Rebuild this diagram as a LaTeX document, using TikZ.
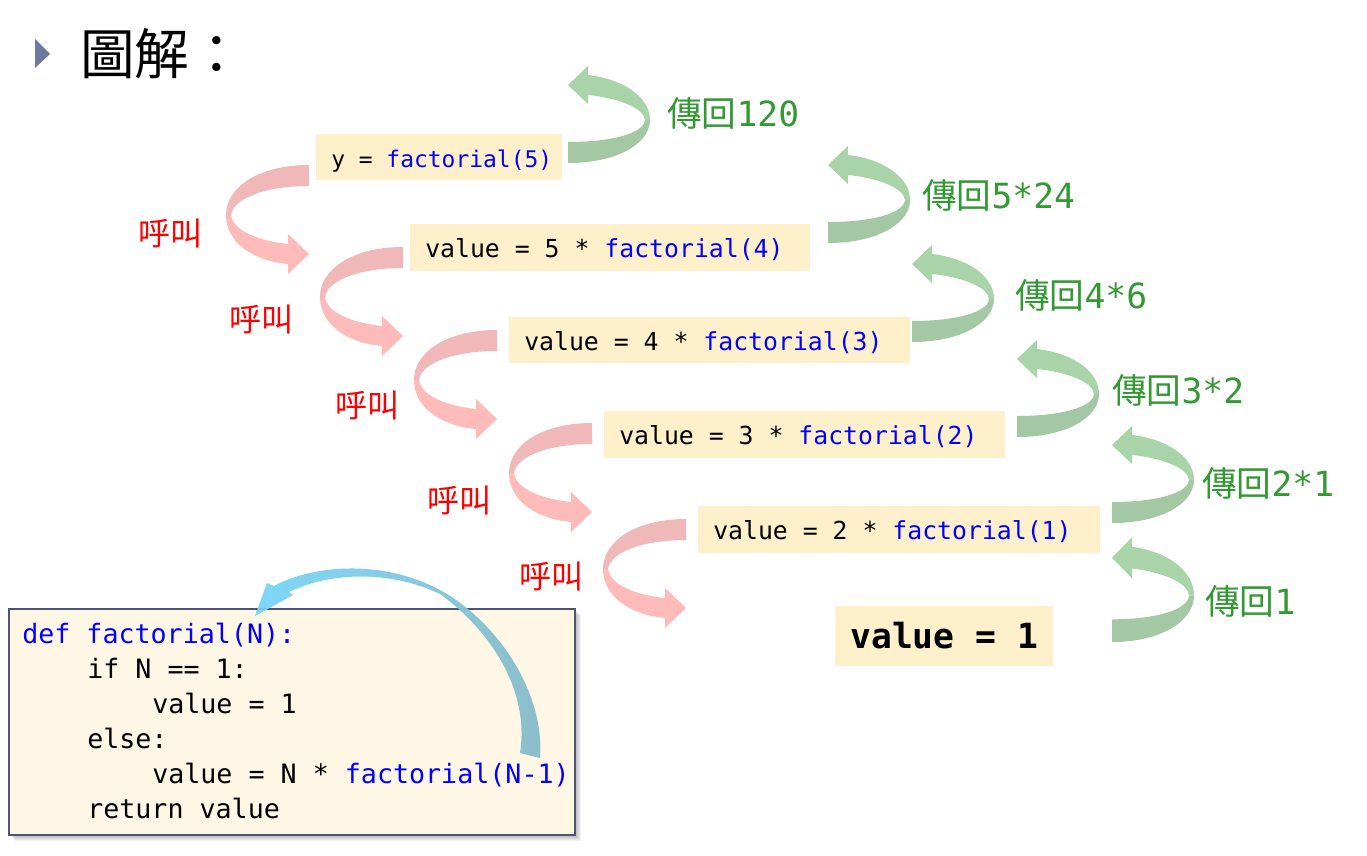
\documentclass[tikz,border=0pt]{standalone}
\usepackage{fontspec}
\setmainfont{Noto Sans CJK TC}
\newfontfamily\cjkf{Noto Sans CJK TC}
\newfontfamily\monof{DejaVu Sans Mono}
\usetikzlibrary{calc}
\newcommand\pu{0.75pt}
\definecolor{pinkA}{HTML}{F0B8B8}
\definecolor{pinkB}{HTML}{FFBABA}
\definecolor{greenA}{HTML}{A9D4A9}
\definecolor{greenB}{HTML}{A4C8A4}
\definecolor{boxfill}{HTML}{FFF0CC}
\definecolor{codefill}{HTML}{FFF7E5}
\definecolor{codeborder}{HTML}{4D5475}
\definecolor{kwblue}{HTML}{0000FF}
\definecolor{lblgreen}{HTML}{339933}
\definecolor{tri}{HTML}{6E79A1}
\definecolor{blueA}{HTML}{78D5F8}
\definecolor{blueB}{HTML}{86BCC8}
\tikzset{
  pinkarrow/.pic={
    \fill[pinkB] (-83,50) .. controls (-83,78) and (-55,96) .. (-21,99) -- (-21,109) -- (0,89) -- (-21,69) -- (-21,79) .. controls (-50,76) and (-76,66) .. (-78,50) -- cycle;
    \fill[pinkA] (0,0) .. controls (-50,0) and (-83,22) .. (-83,50) -- (-78,50) .. controls (-76,34) and (-45,21) .. (0,21) -- cycle;
  },
  greenarrow/.pic={
    \fill[greenB] (0,0) .. controls (50,0) and (82,-20) .. (82,-43) -- (77,-43) .. controls (76,-30) and (45,-21) .. (0,-21) -- cycle;
    \fill[greenA] (82,-43) .. controls (82,-66) and (55,-84) .. (20,-88) -- (20,-97) -- (0,-78) -- (20,-59) -- (20,-68) .. controls (50,-65) and (76,-55) .. (77,-43) -- cycle;
  },
  box/.style={fill=boxfill, inner sep=0pt, anchor=north west},
  boxtext/.style={inner sep=0pt, anchor=base west, font=\monof\fontsize{18.6pt}{22pt}\selectfont},
  codetext/.style={inner sep=0pt, anchor=base west, font=\monof\fontsize{20pt}{24pt}\selectfont},
  calllbl/.style={inner sep=0pt, text=red, font=\cjkf\fontsize{24pt}{28pt}\selectfont},
  retlbl/.style={inner sep=0pt, anchor=west, text=lblgreen, font=\fontsize{26pt}{30pt}\selectfont},
}
\newcommand\kw[1]{\textcolor{kwblue}{#1}}
\newcommand\ret[1]{{\cjkf 傳回}{\monof #1}}
\begin{document}
\begin{tikzpicture}[x=0.75pt,y=-0.75pt]
\useasboundingbox (0,0) rectangle (1367,856);
\fill[white] (0,0) rectangle (1367,856);

% title
\fill[tri] (35,39) -- (50,54) -- (35,68) -- cycle;
\node[inner sep=0pt, anchor=west, font=\cjkf\fontsize{41pt}{46pt}\selectfont] (title) at (80,54) {圖解：};

% boxes
\node[box, minimum width={246*\pu}, minimum height={46*\pu}] (b1) at (316,134) {};
\node[box, minimum width={400*\pu}, minimum height={47*\pu}] (b2) at (410,224) {};
\node[box, minimum width={401*\pu}, minimum height={46*\pu}] (b3) at (509,317) {};
\node[box, minimum width={401*\pu}, minimum height={47*\pu}] (b4) at (604,411) {};
\node[box, minimum width={402*\pu}, minimum height={47*\pu}] (b5) at (698,506) {};
\node[box, minimum width={218*\pu}, minimum height={60*\pu}] (b6) at (835,606) {};

\node[boxtext, font=\monof\fontsize{17.2pt}{21pt}\selectfont] (t1) at ($(b1.west)+(15,10)$) {y = \kw{factorial(5)}};
\node[boxtext] (t2) at ($(b2.west)+(15,10)$) {value = 5 * \kw{factorial(4)}};
\node[boxtext] (t3) at ($(b3.west)+(15,10)$) {value = 4 * \kw{factorial(3)}};
\node[boxtext] (t4) at ($(b4.west)+(15,10)$) {value = 3 * \kw{factorial(2)}};
\node[boxtext] (t5) at ($(b5.west)+(15,10)$) {value = 2 * \kw{factorial(1)}};
\node[inner sep=0pt, anchor=base west, font=\monof\bfseries\fontsize{26pt}{30pt}\selectfont] (t6) at ($(b6.west)+(15,12)$) {value = 1};

% call arrows
\pic at (309,165) {pinkarrow};
\pic at (403,247) {pinkarrow};
\pic at (497,330) {pinkarrow};
\pic at (592,423) {pinkarrow};
\pic at (686,519) {pinkarrow};

% return arrows
\pic at (568,163) {greenarrow};
\pic at (828,243) {greenarrow};
\pic at (912,342) {greenarrow};
\pic at (1017,437) {greenarrow};
\pic at (1112,523) {greenarrow};
\pic[yscale=1.08] at (1112,642) {greenarrow};

% call labels
\node[calllbl] (c1) at (170,233) {呼叫};
\node[calllbl] (c2) at (261,319) {呼叫};
\node[calllbl] (c3) at (367,405) {呼叫};
\node[calllbl] (c4) at (459,500) {呼叫};
\node[calllbl] (c5) at (551,576) {呼叫};

% return labels
\node[retlbl] (r1) at (667,113) {\ret{120}};
\node[retlbl] (r2) at (922,195) {\ret{5*24}};
\node[retlbl] (r3) at (1015,295) {\ret{4*6}};
\node[retlbl] (r4) at (1112,390) {\ret{3*2}};
\node[retlbl] (r5) at (1202,483) {\ret{2*1}};
\node[retlbl] (r6) at (1205,601) {\ret{1}};

% code box with shadow
\foreach \i in {1,...,7} {
  \fill[black, opacity=0.05] (8+\i,608+\i) rectangle (574+\i,834+\i);
}
\node[fill=codefill, draw=codeborder, line width=1.5pt, inner sep=0pt, anchor=north west,
      minimum width={566*\pu}, minimum height={226*\pu}] (code) at (8,608) {};
\node[codetext] (l1) at (22,643) {\kw{def factorial(N):}};
\node[codetext] (l2) at (87,678) {if N == 1:};
\node[codetext] (l3) at (152,713) {value = 1};
\node[codetext] (l4) at (87,748) {else:};
\node[codetext] (l5) at (152,783) {value = N * \kw{factorial(N-1)}};
\node[codetext] (l6) at (87,818) {return value};

% recursive call arrow
\shade[left color=blueA, right color=blueB, opacity=0.95]
  (255,616) -- (267,583) -- (274,586)
  .. controls (310,566) and (380,558) .. (440,590)
  .. controls (495,620) and (545,690) .. (540,758)
  -- (520,753)
  .. controls (530,690) and (490,630) .. (440,594)
  .. controls (390,570) and (330,572) .. (289,592)
  -- (293,595) -- cycle;
\end{tikzpicture}
\end{document}
